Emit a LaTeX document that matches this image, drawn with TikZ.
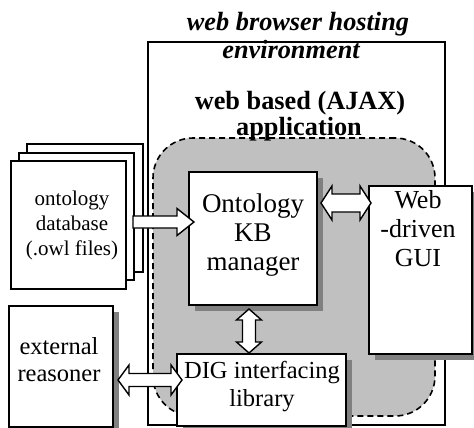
\documentclass[tikz,border=0pt]{standalone}
\usepackage{fontspec}
\setmainfont{Liberation Serif}
\usetikzlibrary{shadows,calc}
\definecolor{areagray}{HTML}{C0C0C0}
\definecolor{shadegray}{HTML}{808080}
\newcommand{\dblH}[6]{%
\filldraw[barrow] let \p1=(#1), \p2=(#2), \p3=(0,#3) in
 (\x1,\y3) -- (\x1+#6pt,\y3+#5pt) -- (\x1+#6pt,\y3+#4pt) -- (\x2-#6pt,\y3+#4pt) -- (\x2-#6pt,\y3+#5pt) -- (\x2,\y3)
 -- (\x2-#6pt,\y3-#5pt) -- (\x2-#6pt,\y3-#4pt) -- (\x1+#6pt,\y3-#4pt) -- (\x1+#6pt,\y3-#5pt) -- cycle;}
\newcommand{\dblV}[6]{%
\filldraw[barrow] let \p1=(#1), \p2=(#2), \p3=(#3,0) in
 (\x3,\y1) -- (\x3+#5pt,\y1-#6pt) -- (\x3+#4pt,\y1-#6pt) -- (\x3+#4pt,\y2+#6pt) -- (\x3+#5pt,\y2+#6pt) -- (\x3,\y2)
 -- (\x3-#5pt,\y2+#6pt) -- (\x3-#4pt,\y2+#6pt) -- (\x3-#4pt,\y1-#6pt) -- (\x3-#5pt,\y1-#6pt) -- cycle;}
\begin{document}
\begin{tikzpicture}[x=1pt,y=-1pt,
  box/.style={draw=black, line width=1.6pt, fill=white, rectangle, inner sep=0pt, outer sep=0pt, anchor=north west},
  shadowbox/.style={box, drop shadow={shadow xshift=6pt, shadow yshift=-6pt, fill=shadegray, opacity=1}},
  boxtext/.style={align=center, inner sep=0pt, font=\fontsize{26}{29}\selectfont},
  ttl/.style={inner sep=0pt, anchor=base, font=\bfseries\itshape\fontsize{26.3}{28}\selectfont},
  ttlb/.style={inner sep=0pt, anchor=base, font=\bfseries\fontsize{26.3}{23}\selectfont},
  barrow/.style={draw=black, line width=1.4pt, fill=white, line join=miter}]
\useasboundingbox (0,0) rectangle (474,428);
% environment and application areas
\node[draw=black, line width=1.3pt, minimum width=297pt, minimum height=383pt, anchor=north west, inner sep=0pt, outer sep=0pt] (env) at (148,42) {};
\node[draw=black, dashed, dash pattern=on 6pt off 4pt, fill=areagray, rounded corners=40pt, line width=1.6pt, minimum width=282pt, minimum height=278pt, anchor=north west, inner sep=0pt, outer sep=0pt] (app) at (153,138) {};
% titles
\node[ttl] (t1) at (298,31) {web browser hosting};
\node[ttl] (t2) at (291,59) {environment};
\node[ttlb] (t3) at (300,110) {web based (AJAX)};
\node[ttlb] (t4) at (299,135) {application};
% ontology database pages
\node[box, minimum width=116pt, minimum height=128pt] (dbback) at (27,144) {};
\node[box, minimum width=115pt, minimum height=127pt] (dbmid) at (19,153) {};
\node[box, minimum width=115pt, minimum height=128pt] (db) at (11,161) {};
\node[boxtext, font=\fontsize{21}{25}\selectfont] (dbt) at (72,225) {ontology\\database\\(.owl files)};
% boxes
\node[shadowbox, minimum width=128pt, minimum height=133pt] (kb) at (189,172) {};
\node[shadowbox, minimum width=103pt, minimum height=168pt] (gui) at (369,186) {};
\node[shadowbox, minimum width=169pt, minimum height=72pt] (dig) at (177,354) {};
\node[shadowbox, minimum width=104pt, minimum height=121pt] (ext) at (9,306) {};
\node[boxtext, font=\fontsize{27}{29}\selectfont] (kbt) at (253,235) {Ontology\\KB\\manager};
\node[boxtext] (guit) at (418,229) {Web\\-driven\\GUI};
\node[boxtext, font=\fontsize{24.5}{28}\selectfont] (digt) at (262,387) {DIG interfacing\\library};
\node[boxtext, font=\fontsize{24.5}{27}\selectfont] (extt) at (59,360) {external\\reasoner};
% arrows
\filldraw[barrow] let \p1=(dbmid.east), \p2=(kb.west), \p3=(0,222) in
 (\x1-1pt,\y3+6pt) -- (\x2-12pt,\y3+6pt) -- (\x2-12pt,\y3+13.5pt) -- (\x2+5pt,\y3)
 -- (\x2-12pt,\y3-13.5pt) -- (\x2-12pt,\y3-6pt) -- (\x1-1pt,\y3-6pt) -- cycle;
\dblH{[xshift=4pt]kb.east}{[xshift=2pt]gui.west}{203}{9}{17}{11}
\dblH{[xshift=5pt]ext.east}{[xshift=5pt]dig.west}{380}{6.5}{15}{11}
\dblV{[yshift=-4pt]kb.south}{[yshift=1pt]dig.north}{249}{6.5}{12.5}{11}
\end{tikzpicture}
\end{document}
